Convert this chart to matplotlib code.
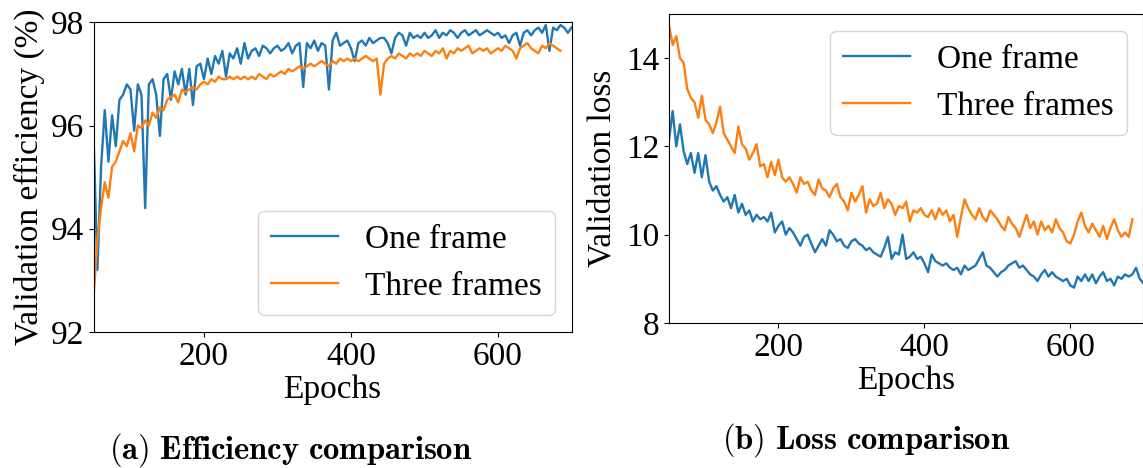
import matplotlib
matplotlib.use("Agg")
import matplotlib.pyplot as plt

plt.rcParams['font.family'] = ['Liberation Serif', 'DejaVu Serif']
plt.rcParams['mathtext.fontset'] = 'cm'
plt.rcParams['font.size'] = 24

# Epochs sampled every 5 (one-frame runs to 700, three-frame to 685)
epochs_one = list(range(50, 701, 5))
epochs_three = list(range(50, 686, 5))

# Validation efficiency (%)
eff_one = [
    95.7, 93.2, 95.2, 96.3, 95.3, 96.2, 95.6, 96.5, 96.6, 96.8,      # 50-95
    96.7, 95.9, 96.8, 96.6, 94.4, 96.8, 96.9, 96.6, 95.8, 96.9,      # 100-145
    97.0, 96.5, 97.05, 96.8, 97.1, 96.6, 97.1, 96.4, 97.15, 97.2,    # 150-195
    96.9, 97.3, 97.0, 97.35, 97.2, 97.45, 96.95, 97.4, 97.3, 97.5,   # 200-245
    97.2, 97.6, 97.3, 97.45, 97.5, 97.35, 97.55, 97.5, 97.4, 97.5,   # 250-295
    97.55, 97.45, 97.5, 97.6, 97.4, 97.55, 97.6, 96.75, 97.6, 97.5,  # 300-345
    97.65, 97.45, 97.6, 97.55, 96.7, 97.65, 97.8, 97.55, 97.6, 97.65,  # 350-395
    97.5, 97.25, 97.6, 97.65, 97.55, 97.7, 97.6, 97.65, 97.7, 97.7,  # 400-445
    97.6, 97.4, 97.7, 97.8, 97.75, 97.55, 97.8, 97.7, 97.75, 97.7,   # 450-495
    97.8, 97.7, 97.75, 97.85, 97.7, 97.8, 97.75, 97.85, 97.8, 97.7,  # 500-545
    97.8, 97.85, 97.75, 97.8, 97.85, 97.75, 97.8, 97.85, 97.8, 97.75,  # 550-595
    97.8, 97.7, 97.75, 97.6, 97.75, 97.8, 97.55, 97.8, 97.85, 97.75,  # 600-645
    97.85, 97.9, 97.8, 97.95, 97.45, 97.9, 97.85, 97.95, 97.9, 97.8,  # 650-695
    97.9,                                                             # 700
]
eff_three = [
    92.7, 93.8, 94.4, 94.9, 94.6, 95.2, 95.3, 95.5, 95.7, 95.6,      # 50-95
    95.85, 95.5, 96.0, 95.95, 96.1, 96.0, 96.25, 96.15, 96.35, 96.3,  # 100-145
    96.5, 96.55, 96.6, 96.45, 96.7, 96.65, 96.7, 96.75, 96.7, 96.8,  # 150-195
    96.85, 96.8, 96.9, 96.85, 96.95, 96.9, 96.9, 96.95, 96.9, 96.95,  # 200-245
    96.9, 96.95, 96.9, 96.95, 96.9, 97.0, 96.95, 96.9, 97.0, 96.95,  # 250-295
    97.0, 97.05, 97.0, 97.1, 97.05, 97.1, 97.15, 97.1, 97.15, 97.2,  # 300-345
    97.15, 97.2, 97.25, 97.2, 97.15, 97.25, 97.2, 97.3, 97.25, 97.3,  # 350-395
    97.25, 97.3, 97.25, 97.3, 97.35, 97.3, 97.25, 97.3, 96.6, 97.2,  # 400-445
    97.3, 97.35, 97.3, 97.4, 97.35, 97.3, 97.4, 97.35, 97.4, 97.35,  # 450-495
    97.45, 97.4, 97.35, 97.45, 97.4, 97.5, 97.3, 97.45, 97.4, 97.5,  # 500-545
    97.45, 97.5, 97.55, 97.4, 97.45, 97.5, 97.45, 97.5, 97.4, 97.45,  # 550-595
    97.5, 97.45, 97.55, 97.5, 97.45, 97.3, 97.5, 97.55, 97.6, 97.5,  # 600-645
    97.45, 97.4, 97.55, 97.5, 97.6, 97.55, 97.5, 97.45,              # 650-685
]

# Validation loss
loss_one = [
    12.15, 12.8, 12.0, 12.5, 11.9, 11.6, 11.85, 11.4, 11.85, 11.3,   # 50-95
    11.8, 11.2, 11.0, 11.1, 10.9, 10.75, 10.85, 10.6, 10.9, 10.5,    # 100-145
    10.7, 10.45, 10.55, 10.3, 10.45, 10.35, 10.4, 10.3, 10.5, 10.05,  # 150-195
    10.2, 10.3, 10.0, 10.15, 10.05, 9.9, 9.75, 9.95, 10.0, 9.8,      # 200-245
    9.6, 9.75, 9.9, 9.75, 10.1, 10.0, 9.85, 9.9, 9.75, 9.7,          # 250-295
    9.85, 9.9, 9.8, 9.75, 9.65, 9.7, 9.6, 9.55, 9.5, 9.7,            # 300-345
    9.95, 9.45, 9.6, 9.55, 10.0, 9.45, 9.5, 9.6, 9.45, 9.5,          # 350-395
    9.35, 9.15, 9.55, 9.4, 9.35, 9.3, 9.35, 9.25, 9.2, 9.25,         # 400-445
    9.1, 9.3, 9.2, 9.25, 9.3, 9.45, 9.6, 9.3, 9.25, 9.15,            # 450-495
    9.05, 9.15, 9.2, 9.3, 9.35, 9.4, 9.25, 9.3, 9.2, 9.1,            # 500-545
    9.05, 8.95, 9.1, 9.2, 9.05, 9.15, 9.05, 9.0, 8.95, 9.0,          # 550-595
    8.85, 8.8, 9.05, 8.95, 9.1, 8.95, 9.1, 8.9, 9.05, 9.15,          # 600-645
    8.95, 9.0, 8.85, 9.05, 9.0, 9.1, 9.05, 9.1, 9.25, 9.0,           # 650-695
    8.9,                                                             # 700
]
loss_three = [
    14.75, 14.3, 14.5, 14.0, 13.9, 13.3, 13.1, 13.0, 12.65, 13.15,   # 50-95
    12.6, 12.5, 12.3, 12.55, 12.9, 12.3, 12.15, 12.0, 11.85, 12.45,  # 100-145
    12.05, 11.95, 11.7, 11.85, 12.05, 11.55, 11.6, 11.3, 11.65, 11.35,  # 150-195
    11.7, 11.3, 11.2, 11.3, 11.15, 10.95, 11.3, 11.15, 11.2, 11.0,   # 200-245
    10.9, 11.25, 11.05, 11.0, 10.85, 11.05, 11.15, 10.85, 10.75, 10.55,  # 250-295
    10.95, 10.75, 10.9, 11.1, 10.5, 10.8, 10.65, 10.7, 10.95, 10.6,  # 300-345
    10.8, 10.7, 10.45, 10.65, 10.6, 10.75, 10.3, 10.55, 10.5, 10.6,  # 350-395
    10.45, 10.4, 10.55, 10.35, 10.6, 10.45, 10.55, 10.3, 10.45, 9.95,  # 400-445
    10.4, 10.8, 10.6, 10.45, 10.35, 10.6, 10.4, 10.3, 10.55, 10.45,  # 450-495
    10.35, 10.2, 10.1, 10.4, 10.25, 10.15, 9.95, 10.2, 10.45, 10.15,  # 500-545
    10.3, 10.0, 10.3, 10.1, 10.2, 10.05, 10.35, 10.15, 10.05, 9.85,  # 550-595
    9.8, 10.0, 10.3, 10.5, 10.2, 10.05, 10.25, 10.1, 9.95, 10.2,     # 600-645
    9.9, 10.15, 10.35, 10.1, 9.95, 10.05, 9.95, 10.35,               # 650-685
]

blue = '#1f77b4'
orange = '#ff7f0e'

fig = plt.figure(figsize=(11.43, 4.68), dpi=100)
ax1 = fig.add_axes([0.082, 0.291, 0.418, 0.661])
ax2 = fig.add_axes([0.5853, 0.310, 0.415, 0.660])

ax1.plot(epochs_one, eff_one, color=blue, lw=1.7, label='One frame')
ax1.plot(epochs_three, eff_three, color=orange, lw=1.7, label='Three frames')
ax1.set_xlim(50, 700)
ax1.set_ylim(92, 98)
ax1.set_yticks([92, 94, 96, 98])
ax1.set_xticks([200, 400, 600])
ax1.set_xlabel('Epochs', labelpad=2)
ax1.set_ylabel('Validation efficiency (%)', labelpad=4)
ax1.legend(loc='lower right')

ax2.plot(epochs_one, loss_one, color=blue, lw=1.7, label='One frame')
ax2.plot(epochs_three, loss_three, color=orange, lw=1.7, label='Three frames')
ax2.set_xlim(50, 700)
ax2.set_ylim(8, 15)
ax2.set_yticks([8, 10, 12, 14])
ax2.set_xticks([200, 400, 600])
ax2.set_xlabel('Epochs', labelpad=2)
ax2.set_ylabel('Validation loss', labelpad=6)
ax2.legend(loc='upper right')

fig.text(0.2546, 0.038, r'$\mathbf{(a)\ Efficiency\ comparison}$',
         ha='center', va='center', fontsize=23.5)
fig.text(0.758, 0.06, r'$\mathbf{(b)\ Loss\ comparison}$',
         ha='center', va='center', fontsize=23.5)

fig.savefig('out.png', dpi=100)
